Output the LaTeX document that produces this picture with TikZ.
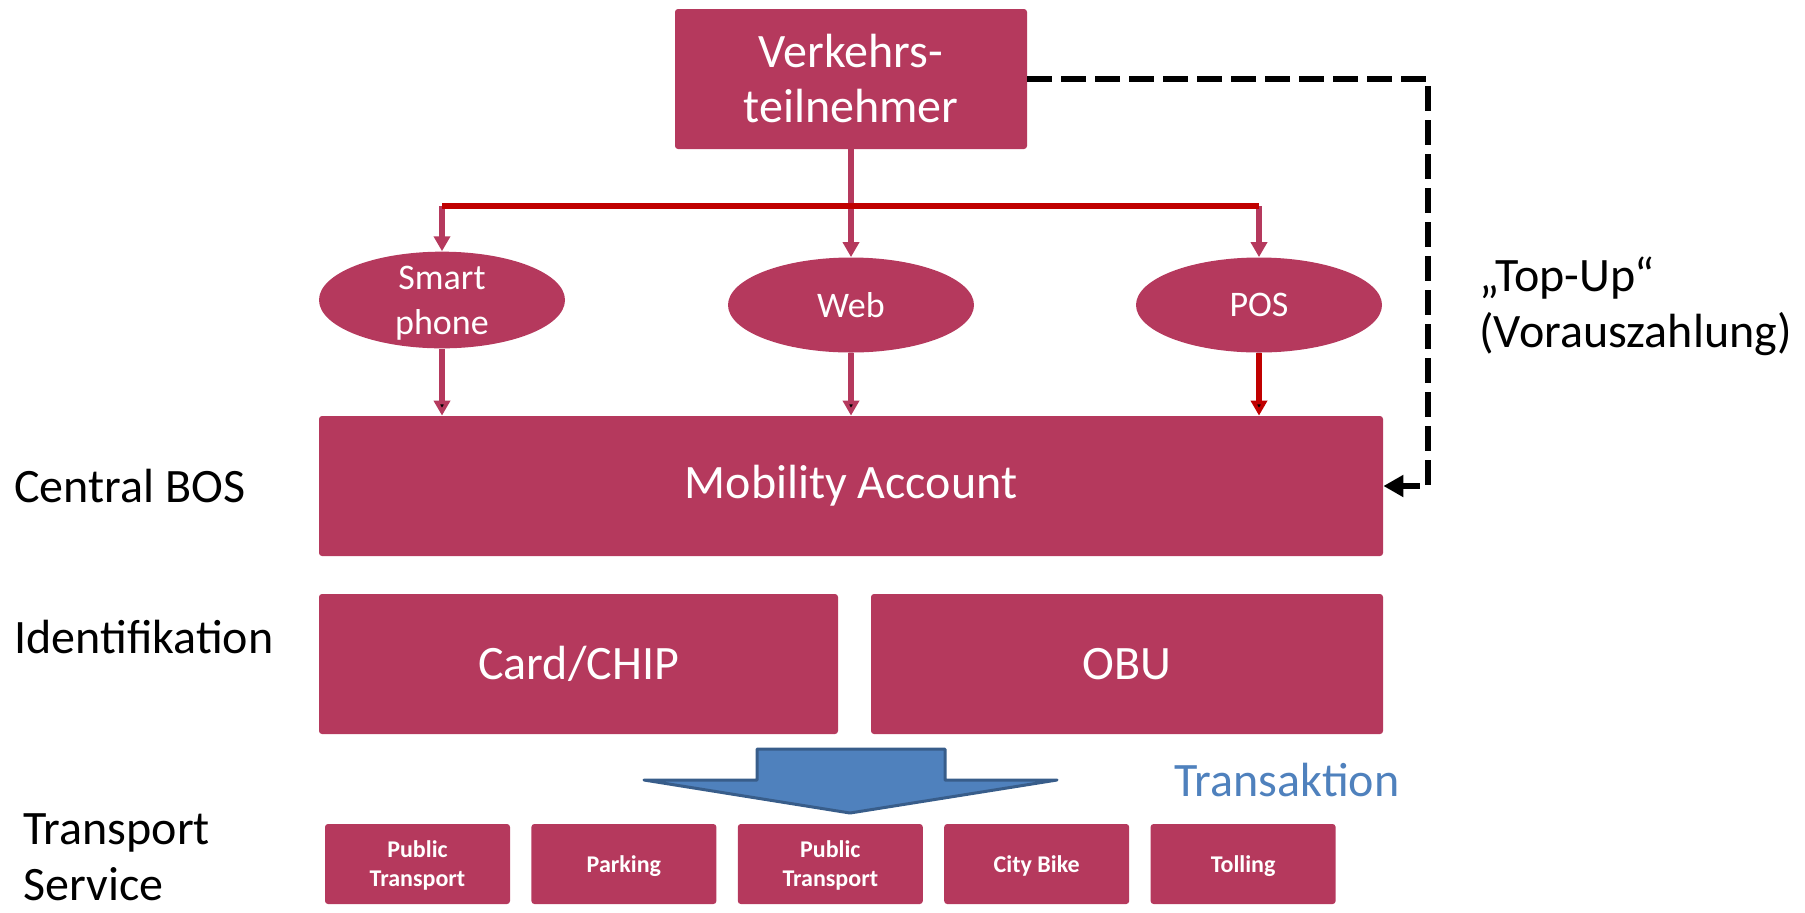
\documentclass[tikz,border=0pt]{standalone}
\usepackage{fontspec}
\setmainfont{Carlito}
\usetikzlibrary{arrows.meta,positioning,shapes.geometric}

\definecolor{boxred}{HTML}{B5395D}
\definecolor{barred}{HTML}{C00000}
\definecolor{arrowblue}{HTML}{4F81BD}
\definecolor{arrowedge}{HTML}{385D8A}

\tikzset{
    box/.style={fill=boxred, text=white, rounded corners=1.5pt, inner sep=0pt, align=center,
                font=\fontsize{24}{27.5}\selectfont},
    oval/.style={ellipse, fill=boxred, text=white, inner sep=0pt, align=center, text depth=0pt,
                 minimum width=123pt, minimum height=47.5pt, font=\fontsize{18}{22.5}\selectfont},
    service/.style={box, minimum width=92.5pt, minimum height=40pt, text depth=0pt,
                    font=\bfseries\fontsize{12}{14.5}\selectfont},
    layer/.style={anchor=west, align=left, inner sep=0pt, font=\fontsize{24}{28}\selectfont},
    feed/.style={draw=boxred, line width=2.6pt, -{Triangle[width=8pt,length=7.5pt]}},
}

\begin{document}
\begin{tikzpicture}[x=0.5pt,y=-0.5pt]
    \useasboundingbox (0,0) rectangle (1805,912);

    \node[box]     (vt)      [minimum width=176pt, minimum height=70pt] at (851,79)    {Verkehrs-\\teilnehmer};
    \node[oval]    (smart)   [] at (442,300)                                             {Smart\\phone};
    \node[oval]    (web)     [] at (851,305)                                             {Web};
    \node[oval]    (pos)     [] at (1259,305)                                            {POS};
    \node[box]     (account) [minimum width=532pt, minimum height=70pt] at (851,486)   {Mobility Account};
    \node[box]     (card)    [minimum width=259.5pt, minimum height=70pt] at (578.5,664) {Card/CHIP};
    \node[box]     (obu)     [minimum width=256pt, minimum height=70pt] at (1127,664)  {OBU};

    \node[service] (pt1)     [] at (417.5,864)                                           {Public\\Transport};
    \node[service] (parking) [right=10.3pt of pt1]                                       {Parking};
    \node[service] (pt2)     [right=10.3pt of parking]                                   {Public\\Transport};
    \node[service] (bike)    [right=10.3pt of pt2]                                       {City Bike};
    \node[service] (toll)    [right=10.3pt of bike]                                      {Tolling};

    \node[layer]   (lbos)    [] at (14,486)                                              {Central BOS};
    \node[layer]   (lid)     [] at (14,637)                                              {Identifikation};
    \node[layer]   (lts)     [text depth=0pt] at (23,857)                                {Transport\\Service};
    \node[layer]   (trans)   [text=arrowblue] at (1174,780)                              {Transaktion};
    \node[layer]   (topup)   [] at (1479,306)                                            {„Top-Up“\\(Vorauszahlung)};

    \coordinate (barL)  at (442,206);
    \coordinate (barM)  at (851,206);
    \coordinate (barR)  at (1259,206);
    \coordinate (dashR) at (1428,300);

    \draw[boxred, line width=2.6pt] (vt) -- (barM);
    \draw[feed] (barM) -- (web);
    \draw[feed] (barL) -- (smart);
    \draw[feed] (barR) -- (pos);
    \path[feed] (smart) edge (smart |- account.north)
                (web)   edge (account)
                ;
    \path[feed, draw=barred] (pos) edge (pos |- account.north);
    \draw[barred, line width=2.8pt] (barL) -- (barR);

    % Top-Up
    \draw[line width=3.4pt, dash pattern=on 12.5pt off 4.5pt, -{Triangle[width=10.5pt,length=10pt]}]
        (vt.east) -| (dashR) |- (account.east);

    % Transaktion
    \filldraw[fill=arrowblue, draw=arrowedge, line width=1.5pt, line join=round]
        (757,749) -- (945,749) -- (945,780) -- (1057,780) -- (850,813) -- (644,780) -- (757,780) -- cycle;
\end{tikzpicture}
\end{document}
